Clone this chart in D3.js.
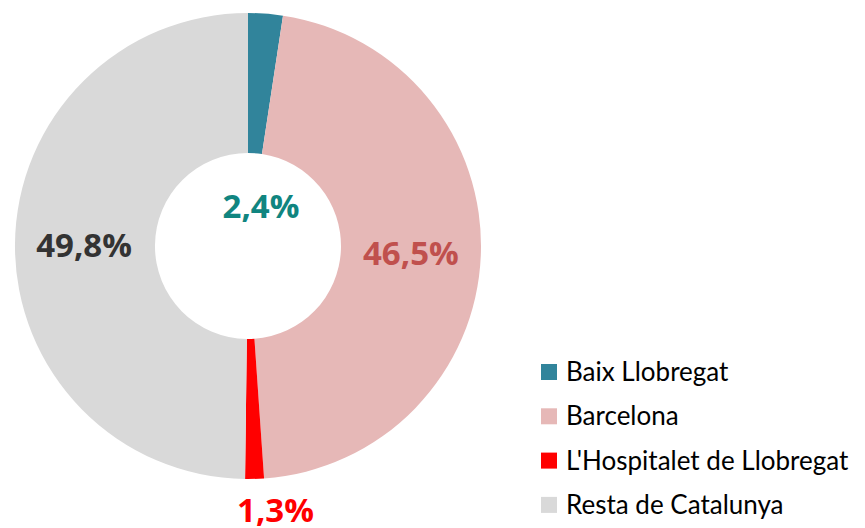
<!DOCTYPE html>
<html>
<head>
<meta charset="utf-8">
<script src="https://cdn.jsdelivr.net/npm/d3@7"></script>
<style>
  body { margin: 0; background: #fff; }
  svg { display: block; }
</style>
</head>
<body>
<svg id="chart"></svg>
<script>
var categories = ['Baix Llobregat', 'Barcelona', "L'Hospitalet de Llobregat", 'Resta de Catalunya'];
var values = [2.4, 46.5, 1.3, 49.8];
var labels = ['2,4%', '46,5%', '1,3%', '49,8%'];

var sliceColors = ['#31849B', '#E6B8B7', '#FF0000', '#D9D9D9'];
var labelColors = ['#108580', '#C0504D', '#FF0000', '#333333'];

var width = 865;
var height = 528;
var cx = 248;
var cy = 246;
var outerR = 233;
var innerR = 93;

// label placement: radius from centre + small nudges, per slice
var labelR = [40, 163, 264, 164];
var labelNudge = [[10, 0], [0, 0], [20, 0], [0, 0]];

var svg = d3.select('#chart')
  .attr('width', width)
  .attr('height', height);

var pie = d3.pie()
  .value(function(d) { return d; })
  .sort(null);

var arc = d3.arc()
  .innerRadius(innerR)
  .outerRadius(outerR);

var arcs = pie(values);

var g = svg.append('g')
  .attr('transform', 'translate(' + cx + ',' + cy + ')');

g.selectAll('path')
  .data(arcs)
  .enter()
  .append('path')
  .attr('d', arc)
  .attr('fill', function(d, i) { return sliceColors[i]; });

g.selectAll('text.lbl')
  .data(arcs)
  .enter()
  .append('text')
  .attr('class', 'lbl')
  .attr('x', function(d, i) {
    var a = (d.startAngle + d.endAngle) / 2;
    return Math.sin(a) * labelR[i] + labelNudge[i][0];
  })
  .attr('y', function(d, i) {
    var a = (d.startAngle + d.endAngle) / 2;
    return -Math.cos(a) * labelR[i] + labelNudge[i][1];
  })
  .attr('dy', '0.36em')
  .attr('text-anchor', 'middle')
  .attr('fill', function(d, i) { return labelColors[i]; })
  .style('font-family', "'Open Sans', sans-serif")
  .style('font-weight', 'bold')
  .style('font-size', '33px')
  .text(function(d, i) { return labels[i]; });

var legend = svg.append('g')
  .attr('transform', 'translate(541,372)');

var rows = legend.selectAll('g')
  .data(categories)
  .enter()
  .append('g')
  .attr('transform', function(d, i) { return 'translate(0,' + (i * 44.3) + ')'; });

rows.append('rect')
  .attr('x', 0)
  .attr('y', -8)
  .attr('width', 16)
  .attr('height', 16)
  .attr('fill', function(d, i) { return sliceColors[i]; });

rows.append('text')
  .attr('x', 25)
  .attr('y', 0)
  .attr('dy', '0.35em')
  .attr('fill', '#000')
  .style('font-family', 'Lato, sans-serif')
  .style('font-size', '26px')
  .text(function(d) { return d; });
</script>
</body>
</html>
